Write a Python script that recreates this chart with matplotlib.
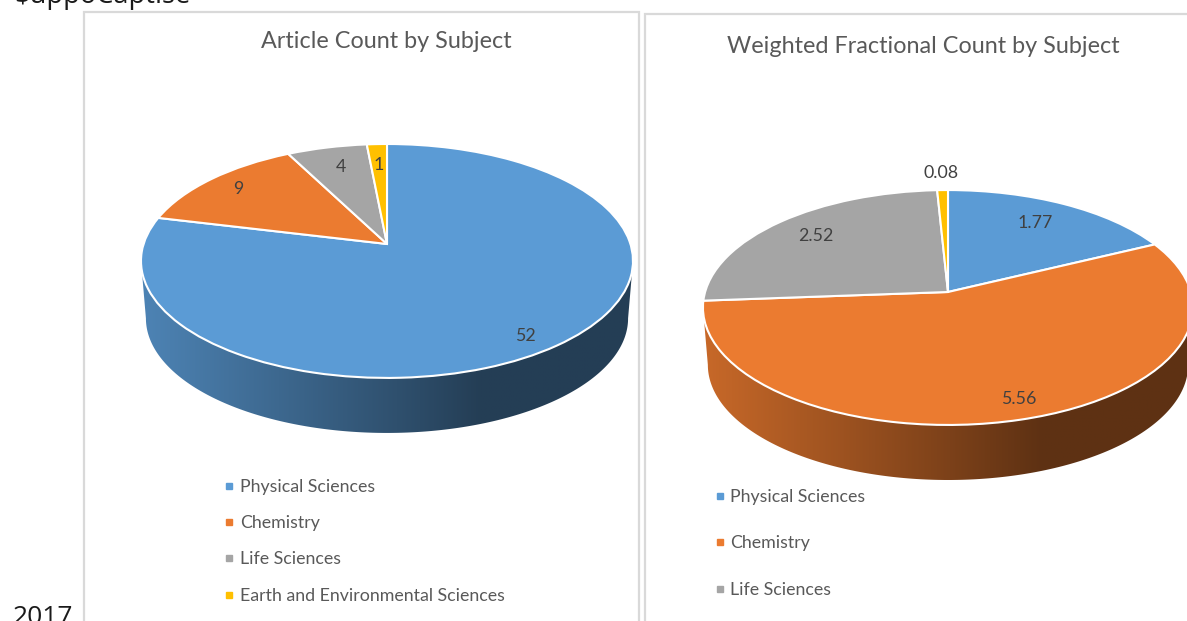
import numpy as np
import matplotlib
matplotlib.use("Agg")
import matplotlib.pyplot as plt
from matplotlib.patches import Polygon
from matplotlib.transforms import Transform

W, H = 1187, 621

subjects = ["Physical Sciences", "Chemistry", "Life Sciences", "Earth and Environmental Sciences"]
article_counts = [52, 9, 4, 1]
article_labels = ["52", "9", "4", "1"]
fractional_counts = [1.77, 5.56, 2.52, 0.08]
fractional_labels = ["1.77", "5.56", "2.52", "0.08"]
colors = ["#5B9BD5", "#EB7B30", "#A5A5A5", "#FFC000"]

FONT = "Lato"
plt.rcParams["font.family"] = [FONT, "DejaVu Sans"]


class PerspectiveDisc(Transform):
    """Maps the unit disc of ax.pie onto a tilted disc, in pixel-like data units."""
    input_dims = output_dims = 2
    is_separable = False
    has_inverse = False

    def __init__(self, cx, cy, b, a, k, scale=1.0, dy=0.0):
        super().__init__()
        self.p = (cx, cy, b, a, k, scale, dy)

    def transform_non_affine(self, values):
        cx, cy, b, a, k, s, dy = self.p
        v = np.asarray(values, dtype=float)
        d = 1 + k * v[:, 1]
        return np.column_stack((cx + s * b * v[:, 0] / d,
                                cy + dy - s * a * v[:, 1] / d))


def wall_shade(f):
    return np.interp(f, [0.0, 0.5, 0.69, 1.0], [0.85, 0.53, 0.40, 0.40])


def draw_pie(ax, values, labels, label_xy, cx, cy, b, a, k, depth=57.7):
    top = PerspectiveDisc(cx, cy, b, a, k)
    low = PerspectiveDisc(cx, cy, b, a, k, scale=0.98, dy=depth)
    wedges, _ = ax.pie(values, colors=colors, startangle=90, counterclock=False,
                       radius=1.0, wedgeprops=dict(edgecolor="white", linewidth=1.5))
    ax.set_aspect("auto")
    front = 0
    for i, w in enumerate(wedges):
        w.set_transform(top + ax.transData)
        w.set_zorder(3)
        if any(w.theta1 <= 270 + n * 360 <= w.theta2 for n in (-1, 0)):
            front = i
    # side wall of the slice that faces the viewer, between the widest rim points
    edge = np.arcsin(k)
    t = np.linspace(np.pi + edge, 2 * np.pi - edge, 300)
    unit = np.column_stack((np.cos(t), np.sin(t)))
    poly = np.vstack((top.transform(unit), low.transform(unit)[::-1]))
    x0, x1 = poly[:, 0].min(), poly[:, 0].max()
    y0, y1 = poly[:, 1].min(), poly[:, 1].max()
    fx = np.linspace(0, 1, 512)
    base = np.array(matplotlib.colors.to_rgb(colors[front]))
    img = (wall_shade(fx)[:, None] * base)[None, :, :]
    im = ax.imshow(img, extent=(x0, x1, y1, y0), aspect="auto", zorder=2,
                   interpolation="bilinear")
    im.set_clip_path(Polygon(poly, closed=True, transform=ax.transData))
    for txt, (x, y) in zip(labels, label_xy):
        ax.text(x, y, txt, fontsize=12.8, color="#404040", ha="center", va="center", zorder=5)


fig = plt.figure(figsize=(W / 100, H / 100), dpi=100, facecolor="white")
ax = fig.add_axes([0, 0, 1, 1])

draw_pie(ax, article_counts, article_labels,
         [(525, 336), (238, 189), (341, 167), (379, 165)],
         387, 244, 243.4, 114.5, 0.145)
draw_pie(ax, fractional_counts, fractional_labels,
         [(1035, 223), (1019, 399), (816, 236), (941, 173)],
         948, 292, 242.9, 115.4, 0.132)

ax.set_xlim(0, W)
ax.set_ylim(H, 0)
ax.set_aspect("auto")
ax.set_axis_off()

# panel frames
frame = "#D9D9D9"
ax.plot([83.5, 83.5, 639, 639], [H + 5, 11.5, 11.5, H + 5], color=frame, lw=1.6, zorder=1,
        clip_on=False, solid_joinstyle="miter")
ax.plot([645, 645, W + 5], [H + 5, 13.5, 13.5], color=frame, lw=1.6, zorder=1,
        clip_on=False, solid_joinstyle="miter")

# titles
ax.text(386.5, 41.5, "Article Count by Subject", fontsize=16.8, color="#595959",
        ha="center", va="center")
ax.text(923.5, 46.5, "Weighted Fractional Count by Subject", fontsize=16.8, color="#595959",
        ha="center", va="center")

# legends
for name, col, y in zip(subjects, colors, [486, 522, 558, 595]):
    ax.plot([229], [y], marker="s", ms=4.6, color=col, ls="none", zorder=5)
    ax.text(240, y + 1, name, fontsize=12.8, color="#595959", ha="left", va="center")
for name, col, y in zip(subjects[:3], colors[:3], [496, 542, 589]):
    ax.plot([720], [y], marker="s", ms=4.6, color=col, ls="none", zorder=5)
    ax.text(730, y + 1, name, fontsize=12.8, color="#595959", ha="left", va="center")

# page text cut by the edges of the screenshot
ax.text(14, 2.5, r"\$uppoCaptlse", fontsize=19.6, color="#1A1A1A", family="Open Sans",
        ha="left", va="baseline")
ax.text(13, 624, "2017", fontsize=19, color="#1A1A1A", family="Open Sans",
        ha="left", va="baseline")

fig.savefig("out.png", dpi=100, facecolor="white")
